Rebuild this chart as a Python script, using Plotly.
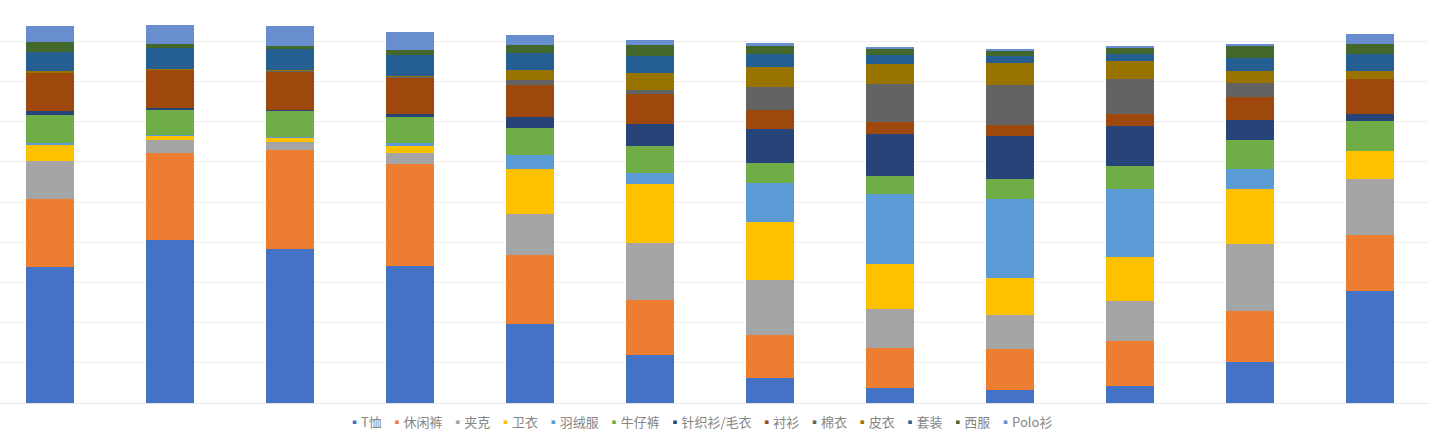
import plotly.graph_objects as go

categories = ["1", "2", "3", "4", "5", "6", "7", "8", "9", "10", "11", "12"]

series_names = ["T恤", "休闲裤", "夹克", "卫衣", "羽绒服", "牛仔裤", "针织衫/毛衣",
                "衬衫", "棉衣", "皮衣", "套装", "西服", "Polo衫"]

colors = ["#4472C4", "#ED7D31", "#A5A5A5", "#FFC000", "#5B9BD5", "#70AD47", "#264478",
          "#9E480E", "#636363", "#997300", "#255E91", "#43682B", "#698ED0"]

t_shirt   = [33.8, 40.5, 38.4, 34.0, 19.7, 12.0, 6.1, 3.7, 3.3, 4.2, 10.2, 27.9]
casual    = [17.0, 21.7, 24.5, 25.4, 17.0, 13.7, 10.8, 10.0, 10.2, 11.3, 12.6, 14.0]
jacket    = [9.5, 3.3, 2.1, 2.8, 10.4, 14.1, 13.7, 9.8, 8.3, 9.9, 16.7, 13.8]
hoodie    = [4.0, 1.1, 1.1, 1.7, 11.2, 14.8, 14.5, 11.2, 9.3, 10.8, 13.7, 7.0]
down      = [0.3, 0.1, 0.1, 0.7, 3.3, 2.5, 9.6, 17.2, 19.6, 17.0, 5.1, 0.1]
jeans     = [7.0, 6.4, 6.6, 6.6, 6.8, 6.8, 5.0, 4.6, 5.1, 5.8, 7.0, 7.4]
knit      = [1.1, 0.2, 0.2, 0.8, 2.7, 5.4, 8.5, 10.3, 10.5, 10.0, 5.2, 1.7]
shirt     = [9.4, 9.6, 9.5, 9.0, 8.1, 7.5, 4.6, 3.1, 2.9, 3.0, 5.5, 8.7]
cotton    = [0.2, 0.1, 0.1, 0.1, 1.1, 1.1, 5.7, 9.4, 9.8, 8.5, 3.5, 0.1]
leather   = [0.3, 0.2, 0.2, 0.3, 2.5, 4.2, 5.1, 5.1, 5.5, 4.7, 3.2, 1.8]
suit_set  = [4.8, 5.0, 5.2, 5.2, 4.3, 4.3, 3.2, 2.1, 1.7, 1.7, 3.1, 4.4]
suit      = [2.5, 1.2, 0.85, 1.1, 1.9, 2.7, 2.1, 1.8, 1.6, 1.6, 3.0, 2.5]
polo      = [3.8, 4.6, 4.9, 4.6, 2.5, 1.3, 0.6, 0.1, 0.1, 0.1, 0.5, 2.4]

values = [t_shirt, casual, jacket, hoodie, down, jeans, knit, shirt,
          cotton, leather, suit_set, suit, polo]

fig = go.Figure()
for name, col, vals in zip(series_names, colors, values):
    fig.add_trace(go.Bar(
        x=list(range(len(categories))), y=vals, name=name,
        marker=dict(color=col, line=dict(width=0)),
        showlegend=False,
    ))

# compact legend drawn as one text line
parts = []
for name, col in zip(series_names, colors):
    parts.append(f"<span style='color:{col}'>▪</span>{name}")
legend_text = "&nbsp;&nbsp;&nbsp;".join(parts)

fig.add_annotation(
    text=legend_text, xref="paper", yref="paper", x=0.49, y=-0.045,
    xanchor="center", yanchor="middle", showarrow=False,
    font=dict(family="Noto Sans CJK SC, sans-serif", size=13, color="#858585"),
)

fig.update_layout(
    barmode="stack",
    bargap=0.6,
    width=1452, height=438,
    margin=dict(l=0, r=24, t=1, b=35),
    plot_bgcolor="white", paper_bgcolor="white",
    xaxis=dict(range=[-0.4125, 11.4875], showticklabels=False, showgrid=False,
               zeroline=False, showline=False, ticks=""),
    yaxis=dict(range=[0, 100], dtick=10, showticklabels=False, showgrid=True,
               gridcolor="#EEEEEE", gridwidth=1, zeroline=True,
               zerolinecolor="#E6E6E6", zerolinewidth=1, showline=False, ticks=""),
    font=dict(family="Noto Sans CJK SC, sans-serif"),
)

fig.write_html("out.html")
